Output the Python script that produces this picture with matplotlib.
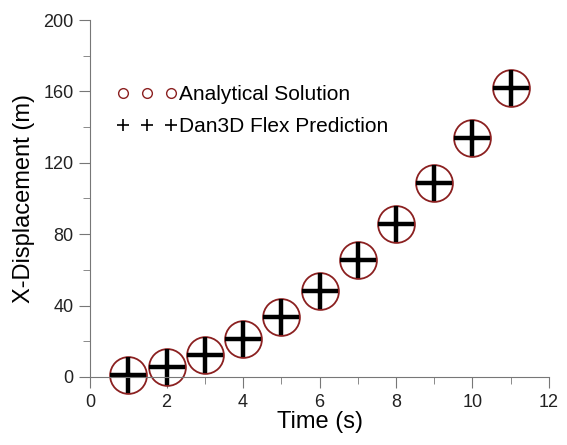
import matplotlib.pyplot as plt
from matplotlib.lines import Line2D
from matplotlib.ticker import MultipleLocator

plt.rcParams['font.family'] = ['Liberation Sans', 'DejaVu Sans']

time_s = [1, 2, 3, 4, 5, 6, 7, 8, 9, 10, 11]
analytical = [1.3, 5.4, 12.1, 21.4, 33.5, 48.2, 65.7, 85.8, 108.5, 134.0, 162.1]
dan3d = [1.3, 5.4, 12.1, 21.4, 33.5, 48.2, 65.7, 85.8, 108.5, 134.0, 162.1]

fig = plt.figure(figsize=(5.67, 4.45), dpi=100)
ax = fig.add_axes([0.159, 0.153, 0.809, 0.802])

ax.plot(time_s, analytical, linestyle='none', marker='o', markersize=26.5,
        markerfacecolor='none', markeredgecolor='#8b2020', markeredgewidth=1.3,
        clip_on=False)
ax.plot(time_s, dan3d, linestyle='none', marker='+', markersize=26.5,
        color='black', markeredgewidth=3.2, clip_on=False)

ax.set_xlim(0, 12)
ax.set_ylim(0, 200)
ax.xaxis.set_major_locator(MultipleLocator(2))
ax.xaxis.set_minor_locator(MultipleLocator(1))
ax.yaxis.set_major_locator(MultipleLocator(40))
ax.yaxis.set_minor_locator(MultipleLocator(20))

for s in ['top', 'right']:
    ax.spines[s].set_visible(False)
for s in ['left', 'bottom']:
    ax.spines[s].set_color('#777777')
ax.tick_params(which='major', length=8, color='#777777', labelsize=13,
               labelcolor='#222222', pad=4)
ax.tick_params(which='minor', length=5, color='#777777')

ax.set_xlabel('Time (s)', fontsize=17, labelpad=0)
ax.set_ylabel('X-Displacement (m)', fontsize=17, labelpad=6)

handles = [
    Line2D([], [], linestyle='none', marker='o', markersize=7,
           markerfacecolor='none', markeredgecolor='#8b2020', markeredgewidth=1),
    Line2D([], [], linestyle='none', marker='+', markersize=8,
           color='black', markeredgewidth=1.2),
]
ax.legend(handles, ['Analytical Solution', 'Dan3D Flex Prediction'],
          numpoints=3, loc='upper left', bbox_to_anchor=(0.04, 0.84),
          frameon=False, fontsize=15, handlelength=2.9, handletextpad=0.1,
          labelspacing=0.6, borderaxespad=0)

fig.savefig('out.png', dpi=100)
